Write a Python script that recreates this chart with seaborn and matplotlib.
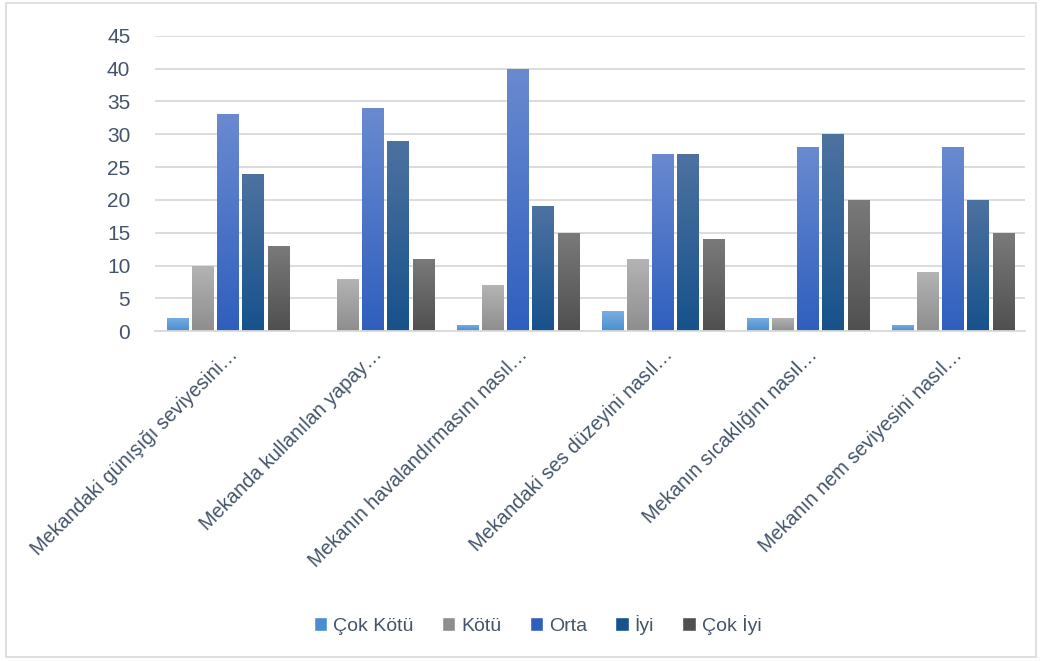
import numpy as np
import pandas as pd
import matplotlib
matplotlib.use("Agg")
import matplotlib.pyplot as plt
import matplotlib.colors as mcolors
from matplotlib.patches import Patch
import seaborn as sns

# Data
categories = [
    "Mekandaki günışığı seviyesini…",
    "Mekanda kullanılan yapay…",
    "Mekanın havalandırmasını nasıl…",
    "Mekandaki ses düzeyini nasıl…",
    "Mekanın sıcaklığını nasıl…",
    "Mekanın nem seviyesini nasıl…",
]
series = ["Çok Kötü", "Kötü", "Orta", "İyi", "Çok İyi"]
cok_kotu = [2, 0, 1, 3, 2, 1]
kotu = [10, 8, 7, 11, 2, 9]
orta = [33, 34, 40, 27, 28, 28]
iyi = [24, 29, 19, 27, 30, 20]
cok_iyi = [13, 11, 15, 14, 20, 15]

# gradient colours (top, bottom)
grad = {
    "Çok Kötü": ("#7BAEE0", "#4A8ED0"),
    "Kötü": ("#B4B4B4", "#8E8E8E"),
    "Orta": ("#6A8AD0", "#2F5FBE"),
    "İyi": ("#4D72A0", "#17528C"),
    "Çok İyi": ("#7A7A7A", "#505050"),
}

df = pd.DataFrame({
    "Kategori": categories * 5,
    "Seri": [s for s in series for _ in categories],
    "Değer": cok_kotu + kotu + orta + iyi + cok_iyi,
})

sns.set_style("white")
plt.rcParams["font.family"] = ["Liberation Sans", "DejaVu Sans"]
text_color = "#44546A"

fig = plt.figure(figsize=(10.42, 6.61), dpi=100)
ax = fig.add_axes([0.149, 0.499, 0.835, 0.447])

palette = {s: grad[s][1] for s in series}
sns.barplot(data=df, x="Kategori", y="Değer", hue="Seri", hue_order=series,
            palette=palette, width=0.87, gap=0.15, ax=ax, legend=False)

ax.set_yticks(range(0, 46, 5))
ax.yaxis.grid(True, color="#D9D9D9", linewidth=1.3)
ax.set_axisbelow(True)
for s in ["top", "right", "left"]:
    ax.spines[s].set_visible(False)
ax.spines["bottom"].set_color("#D9D9D9")
ax.spines["bottom"].set_linewidth(1.3)
ax.set_xlabel("")
ax.set_ylabel("")
ax.tick_params(axis="y", length=0, labelsize=15, colors=text_color, pad=18)
ax.tick_params(axis="x", length=0, colors=text_color, pad=10)
ax.set_xticks(range(len(categories)))
ax.set_xticklabels(categories, rotation=45, ha="right", rotation_mode="anchor",
                   fontsize=14.2, color=text_color)

# vertical gradient fill for each bar
nbars = len(categories)
for i, patch in enumerate(ax.patches):
    s = series[i // nbars]
    x0, y0 = patch.get_x(), patch.get_y()
    w, h = patch.get_width(), patch.get_height()
    if h <= 0:
        continue
    cmap = mcolors.LinearSegmentedColormap.from_list("g", [grad[s][1], grad[s][0]])
    img = ax.imshow(np.linspace(0, 1, 100).reshape(-1, 1), cmap=cmap, origin="lower",
                    extent=[x0, x0 + w, y0, y0 + h], aspect="auto", zorder=2)
    img.set_clip_path(patch)
    patch.set_facecolor("none")
    patch.set_edgecolor("none")
ax.set_xlim(-0.5, 5.5)
ax.set_ylim(0, 45)

# legend
handles = [Patch(facecolor=grad[s][1], label=s) for s in series]
fig.legend(handles=handles, loc="center", bbox_to_anchor=(0.516, 0.055), ncol=5,
           frameon=False, fontsize=14, handlelength=0.7, handleheight=0.7,
           handletextpad=0.3, columnspacing=1.45, labelcolor=text_color)

# outer border
fig.patches.append(plt.Rectangle((0.006, 0.006), 0.988, 0.99, transform=fig.transFigure,
                                 fill=False, edgecolor="#D9D9D9", linewidth=1.2))

fig.savefig("out.png", dpi=100)
